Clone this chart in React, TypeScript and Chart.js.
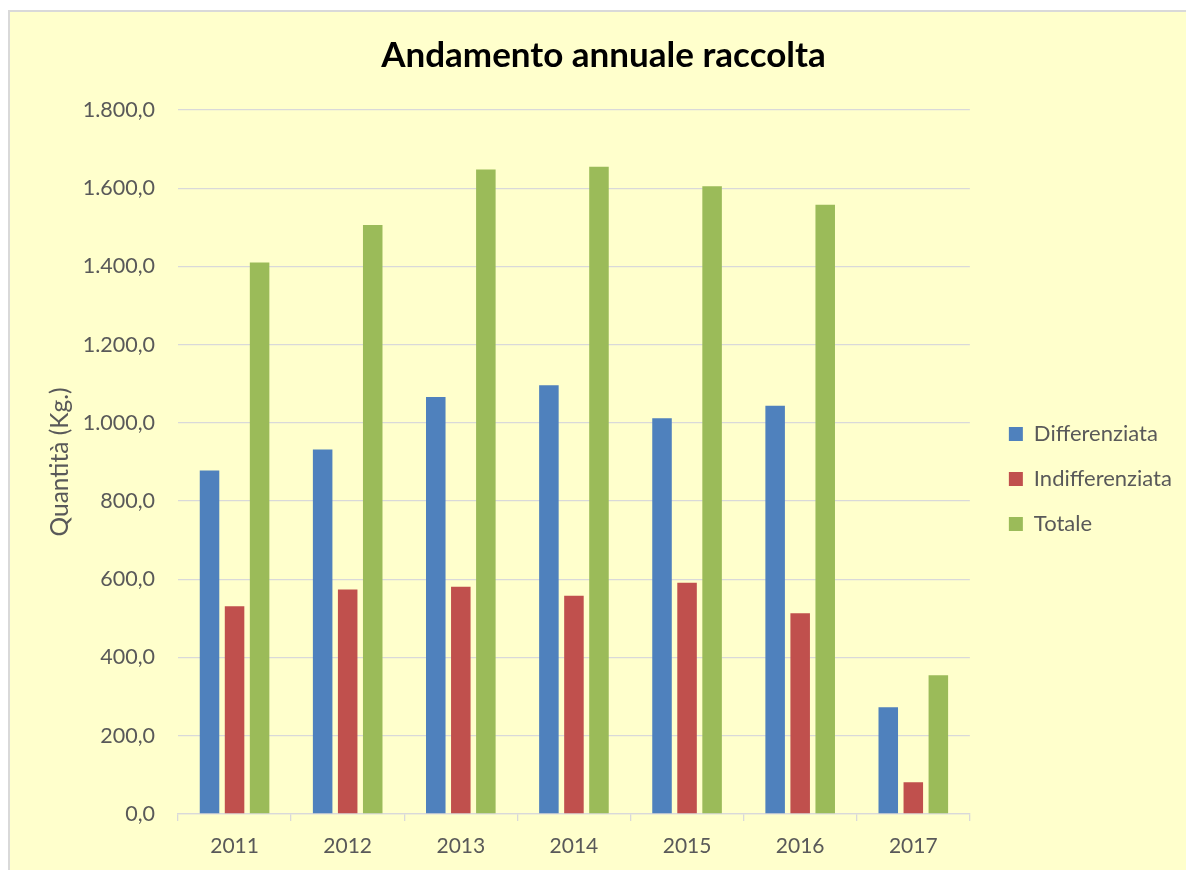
import React, { useEffect, useRef } from 'react';
import { Chart, registerables } from 'chart.js';

Chart.register(...registerables);

const CATEGORIES = ['2011', '2012', '2013', '2014', '2015', '2016', '2017'];
const DIFFERENZIATA = [878, 932, 1066, 1096, 1012, 1044, 273];
const INDIFFERENZIATA = [531, 574, 581, 558, 591, 513, 81];
const TOTALE = [1410, 1506, 1648, 1655, 1605, 1558, 355];
const Y_TICK_LABELS = ['0,0', '200,0', '400,0', '600,0', '800,0', '1.000,0', '1.200,0', '1.400,0', '1.600,0', '1.800,0'];
const SERIES_NAMES = ['Differenziata', 'Indifferenziata', 'Totale'];
const SERIES_COLORS = ['#4F81BD', '#C0504D', '#9BBB59'];
const TITLE = 'Andamento annuale raccolta';
const Y_TITLE = 'Quantità (Kg.)';

const FONT = 'Lato, "Open Sans", sans-serif';
const TEXT_COLOR = '#595959';
const GRID_COLOR = '#D9D9D9';
const W = 1187;
const H = 859;

export default function App() {
  const ref = useRef<HTMLCanvasElement>(null);

  useEffect(() => {
    const canvas = ref.current!;
    const ctx = canvas.getContext('2d')!;
    const legendFont = 22;
    const legendPad = 23;
    const boxW = 14;
    ctx.font = `${legendFont}px ${FONT}`;
    const textW = Math.max(...SERIES_NAMES.map((s) => ctx.measureText(s).width));
    const legendW = legendPad + boxW + legendFont / 2 + textW + 10 - 3;
    const legendLeft = 997 - legendPad;
    const plotRight = 958;
    const plotLeft = 168;
    const side = Math.max(0, W - legendLeft - legendW);
    const yTitleSize = 24.5;
    const titleSize = 35;
    const titleLH = titleSize * 1.2;

    const chart = new Chart(canvas, {
      type: 'bar',
      data: {
        labels: CATEGORIES,
        datasets: [
          { label: SERIES_NAMES[0], data: DIFFERENZIATA, backgroundColor: SERIES_COLORS[0] },
          { label: SERIES_NAMES[1], data: INDIFFERENZIATA, backgroundColor: SERIES_COLORS[1] },
          { label: SERIES_NAMES[2], data: TOTALE, backgroundColor: SERIES_COLORS[2] },
        ],
      },
      options: {
        responsive: false,
        animation: false,
        devicePixelRatio: 1,
        layout: { padding: { left: side, right: side, top: 0, bottom: 0 } },
        datasets: {
          bar: { categoryPercentage: 0.664, barPercentage: 0.78 },
        },
        plugins: {
          title: {
            display: true,
            text: TITLE,
            color: '#000000',
            font: { family: FONT, size: titleSize, weight: 'bold', lineHeight: 1.2 },
            padding: { top: 44 - titleLH / 2, bottom: 98 - (44 + titleLH / 2) },
          },
          legend: {
            display: true,
            position: 'right',
            align: 'center',
            title: {
              display: true,
              text: '',
              font: { size: 10 },
              padding: { top: 0, bottom: 63 },
            },
            labels: {
              boxWidth: boxW,
              boxHeight: boxW,
              padding: legendPad,
              color: TEXT_COLOR,
              font: { family: FONT, size: legendFont },
            },
          },
          tooltip: { enabled: false },
        },
        scales: {
          x: {
            grid: {
              display: true,
              drawOnChartArea: false,
              drawTicks: true,
              tickLength: 7,
              color: GRID_COLOR,
              lineWidth: 1.3,
            },
            border: { display: true, color: GRID_COLOR, width: 1.3 },
            ticks: {
              color: TEXT_COLOR,
              font: { family: FONT, size: 21 },
              padding: 12.4,
            },
          },
          y: {
            min: 0,
            max: 1800,
            afterFit: (s: any) => {
              s.width = plotLeft - side;
            },
            grid: { color: GRID_COLOR, lineWidth: 1.3, drawTicks: false },
            border: { display: false },
            ticks: {
              stepSize: 200,
              color: TEXT_COLOR,
              font: { family: FONT, size: 21.5 },
              padding: 23,
              callback: (_v: any, i: number) => Y_TICK_LABELS[i],
            },
            title: {
              display: true,
              text: Y_TITLE,
              color: TEXT_COLOR,
              font: { family: FONT, size: yTitleSize },
              padding: { top: 50 - side - (yTitleSize * 1.2) / 2, bottom: 0 },
            },
          },
          y2: {
            type: 'linear',
            position: 'right',
            display: true,
            afterFit: (s: any) => {
              s.width = legendLeft - plotRight;
            },
            grid: { display: false, drawTicks: false },
            border: { display: false },
            ticks: { display: false },
          },
        },
      },
    });
    return () => chart.destroy();
  }, []);

  return (
    <div
      style={{
        position: 'fixed',
        left: 8,
        top: 10,
        width: 1178,
        height: 860,
        boxSizing: 'border-box',
        borderLeft: '2px solid #D9D9D9',
        borderTop: '2px solid #D9D9D9',
        background: '#FFFFCC',
        overflow: 'hidden',
      }}
    >
      <canvas
        ref={ref}
        width={W}
        height={H}
        style={{ position: 'absolute', left: 0, top: 0, width: W, height: H, display: 'block' }}
      />
    </div>
  );
}
